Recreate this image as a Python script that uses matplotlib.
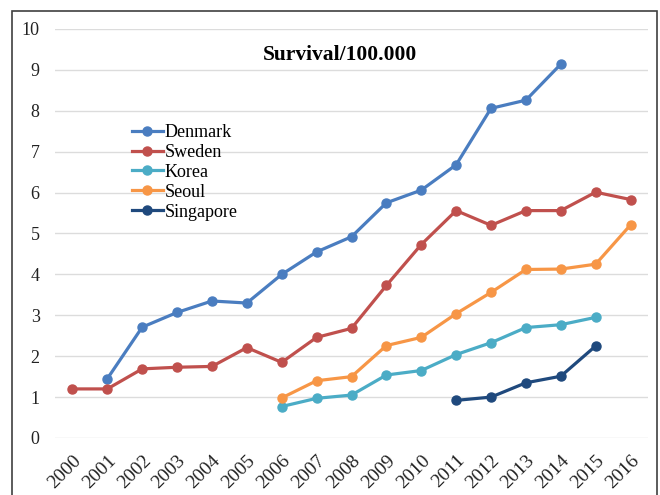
import matplotlib
matplotlib.use("Agg")
import matplotlib.pyplot as plt
from matplotlib.patches import Rectangle

plt.rcParams["font.family"] = ["Liberation Serif", "DejaVu Serif"]

# Years on the category axis
years = [str(y) for y in range(2000, 2017)]

# Values per series (None = no data)
denmark = [None, 1.45, 2.71, 3.07, 3.35, 3.30, 4.00, 4.55, 4.92, 5.75, 6.06, 6.68, 8.06, 8.26, 9.14, None, None]
sweden = [1.20, 1.20, 1.69, 1.73, 1.75, 2.21, 1.85, 2.46, 2.68, 3.73, 4.73, 5.56, 5.20, 5.56, 5.56, 6.01, 5.83]
korea = [None] * 6 + [0.77, 0.97, 1.05, 1.54, 1.65, 2.04, 2.33, 2.70, 2.77, 2.95, None]
seoul = [None] * 6 + [0.98, 1.40, 1.50, 2.26, 2.46, 3.04, 3.56, 4.12, 4.13, 4.25, 5.21]
singapore = [None] * 11 + [0.92, 1.00, 1.35, 1.51, 2.25, None]

series = [
    ("Denmark", denmark, "#4a7dc0"),
    ("Sweden", sweden, "#c0504d"),
    ("Korea", korea, "#4bacc6"),
    ("Seoul", seoul, "#f79646"),
    ("Singapore", singapore, "#1f497d"),
]

fig = plt.figure(figsize=(6.6, 4.95), dpi=100)
ax = fig.add_axes([55 / 660, 1 - 438 / 495, 593 / 660, 409 / 495])

x = list(range(len(years)))
for name, vals, col in series:
    xs = [i for i, v in zip(x, vals) if v is not None]
    ys = [v for v in vals if v is not None]
    ax.plot(xs, ys, color=col, lw=2.3, marker="o", ms=6.5, label=name)

ax.set_xlim(-0.5, len(years) - 0.5)
ax.set_ylim(0, 10)
ax.set_yticks(range(0, 11))
ax.set_xticks(x)
ax.set_xticklabels(years, rotation=45, ha="right", va="top", rotation_mode="anchor")
ax.tick_params(axis="both", length=0, colors="#222222")
ax.tick_params(axis="y", pad=11, labelsize=13)
ax.tick_params(axis="x", pad=10, labelsize=14)
ax.grid(axis="y", color="#dcdcdc", lw=1.0)
ax.set_axisbelow(True)
for s in ax.spines.values():
    s.set_visible(False)

fig.text(340 / 660, 1 - 55 / 495, "Survival/100.000", ha="center", va="center",
         fontsize=15.5, fontweight="bold")

ax.legend(loc="upper left", bbox_to_anchor=(123 / 660, 1 - 115 / 495),
          bbox_transform=fig.transFigure, frameon=False, fontsize=13,
          handlelength=1.7, handletextpad=0.1, labelspacing=0.16, borderpad=0)

fig.patches.append(Rectangle((12 / 660, -0.1), 645 / 660, 1.1 - 11 / 495,
                             transform=fig.transFigure, fill=False, ec="#404040", lw=1.2))

fig.savefig("out.png", dpi=100)
